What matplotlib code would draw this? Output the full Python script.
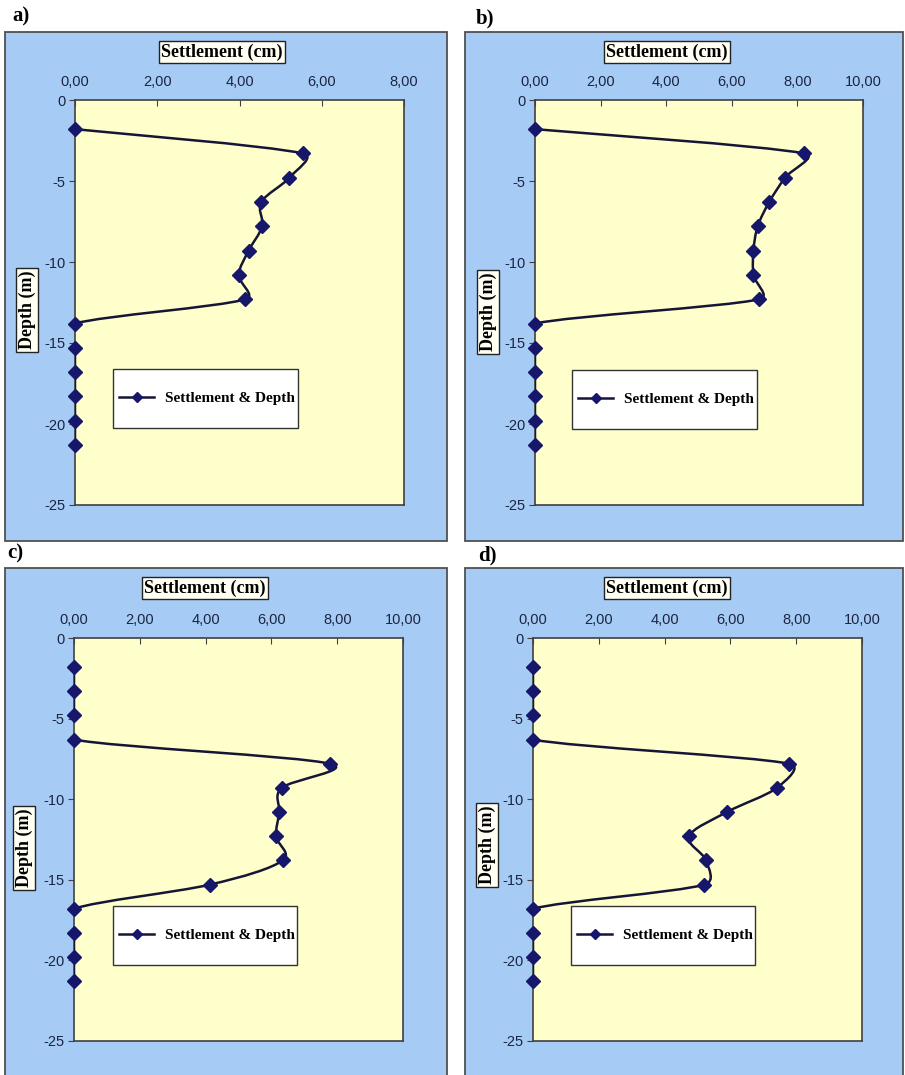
import matplotlib
matplotlib.use("Agg")
import numpy as np
import matplotlib.pyplot as plt
from matplotlib.patches import Rectangle, PathPatch
from matplotlib.path import Path
from matplotlib.lines import Line2D
from matplotlib.ticker import FuncFormatter

# depth of each measuring point (m) and settlement per case (cm)
depth = [-1.8, -3.3, -4.8, -6.3, -7.8, -9.3, -10.8, -12.3, -13.8, -15.3, -16.8, -18.3, -19.8, -21.3]
settle_a = [0, 5.54, 5.21, 4.53, 4.55, 4.22, 3.98, 4.14, 0, 0, 0, 0, 0, 0]
settle_b = [0, 8.21, 7.62, 7.14, 6.79, 6.66, 6.66, 6.84, 0, 0, 0, 0, 0, 0]
settle_c = [0, 0, 0, 0, 7.78, 6.31, 6.24, 6.14, 6.34, 4.13, 0, 0, 0, 0]
settle_d = [0, 0, 0, 0, 7.79, 7.41, 5.89, 4.74, 5.26, 5.21, 0, 0, 0, 0]

panel_labels = ["a)", "b)", "c)", "d)"]
x_max = [8, 10, 10, 10]
y_ticks = [0, -5, -10, -15, -20, -25]
series_name = "Settlement & Depth"

W, H = 905, 1075
BLUE = "#a6ccf6"
YELLOW = "#ffffcc"
NAVY = "#16166a"
LINE = "#151535"
TICK_COL = "#1b2542"
SERIF = "Liberation Serif"
SANS = "Liberation Sans"

fig = plt.figure(figsize=(W / 100, H / 100), dpi=100)
fig.patch.set_facecolor("white")


def fx(px):
    return px / W


def fy(py):
    return 1 - py / H


def smooth_path(xs, ys, sx, sy):
    # smoothed line as cubic Beziers (Catmull-Rom tangents, handles capped
    # at half the segment length so short segments don't overshoot)
    P = np.column_stack([np.asarray(xs, float) * sx, np.asarray(ys, float) * sy])
    n = len(P)
    m = np.array([(P[min(i + 1, n - 1)] - P[max(i - 1, 0)]) / 6 for i in range(n)])

    def handle(i, seg):
        size = np.hypot(*m[i])
        if size == 0:
            return m[i]
        return m[i] * min(1.0, 0.5 * seg / size)

    verts = [P[0]]
    codes = [Path.MOVETO]
    for i in range(n - 1):
        seg = np.hypot(*(P[i + 1] - P[i]))
        verts += [P[i] + handle(i, seg), P[i + 1] - handle(i + 1, seg), P[i + 1]]
        codes += [Path.CURVE4] * 3
    verts = np.array(verts) / [sx, sy]
    return Path(verts, codes)


# pixel layout of each panel: outer box, plot area, titles
panels = [
    dict(box=(5, 32, 447, 541), ax=(75, 100, 404, 505), lab=(21, 16),
         xt=(222, 52), yt=(27, 310), leg=(113, 298, 369, 428)),
    dict(box=(465, 32, 903, 541), ax=(535, 100, 863, 505), lab=(485, 18),
         xt=(667, 52), yt=(488, 312), leg=(572, 757, 370, 429)),
    dict(box=(5, 568, 447, 1080), ax=(74, 638, 403, 1041), lab=(15, 553),
         xt=(205, 588), yt=(24, 848), leg=(113, 297, 906, 965)),
    dict(box=(465, 568, 903, 1080), ax=(533, 638, 862, 1041), lab=(487, 555),
         xt=(667, 588), yt=(487, 845), leg=(571, 755, 906, 965)),
]
series = [settle_a, settle_b, settle_c, settle_d]

for k, p in enumerate(panels):
    x0, y0, x1, y1 = p["box"]
    fig.add_artist(Rectangle((fx(x0), fy(y1)), fx(x1 - x0), (y1 - y0) / H,
                             transform=fig.transFigure, facecolor=BLUE,
                             edgecolor="#505050", linewidth=1.3, zorder=-1))

    l, t, r, b = p["ax"]
    ax = fig.add_axes([fx(l), fy(b), fx(r - l), (b - t) / H])
    ax.set_facecolor(YELLOW)
    ax.set_xlim(0, x_max[k])
    ax.set_ylim(-25, 0)
    ax.set_xticks(range(0, x_max[k] + 1, 2))
    ax.set_yticks(y_ticks)
    ax.xaxis.set_major_formatter(FuncFormatter(lambda v, pos: f"{v:.2f}".replace(".", ",")))
    ax.yaxis.set_major_formatter(FuncFormatter(lambda v, pos: f"{v:g}"))
    ax.xaxis.tick_top()
    ax.tick_params(axis="x", direction="in", length=4, pad=8, labelsize=10.5,
                   labelcolor=TICK_COL, color="#404040")
    ax.tick_params(axis="y", direction="out", length=4, pad=3, labelsize=10.5,
                   labelcolor=TICK_COL, color="#404040")
    for lbl in ax.get_xticklabels() + ax.get_yticklabels():
        lbl.set_fontfamily(SANS)
    for s in ax.spines.values():
        s.set_color("#404040")
        s.set_linewidth(1.2)

    xs = series[k]
    sx = (r - l) / x_max[k]
    sy = (b - t) / 25
    ax.add_patch(PathPatch(smooth_path(xs, depth, sx, sy), facecolor="none",
                           edgecolor=LINE, linewidth=1.8, zorder=3))
    ax.plot(xs, depth, linestyle="none", marker="D", markersize=7,
            color=NAVY, zorder=4, clip_on=False)

    # legend: white framed box with the entry centred vertically inside
    ll, lr, lt, lb = p["leg"]
    lx = (ll - l) / (r - l)
    ly = (b - lb) / (b - t)
    lw = (lr - ll) / (r - l)
    lh = (lb - lt) / (b - t)
    ax.add_patch(Rectangle((lx, ly), lw, lh, transform=ax.transAxes,
                           facecolor="white", edgecolor="#333333",
                           linewidth=1.0, zorder=5))
    handle = Line2D([], [], color=LINE, linewidth=1.8, marker="D",
                    markersize=5, markerfacecolor=NAVY, markeredgecolor=NAVY)
    leg = ax.legend([handle], [series_name], loc="center left",
                    bbox_to_anchor=(lx, ly + lh / 2), borderaxespad=0,
                    frameon=False, handlelength=2.3, handletextpad=0.7,
                    borderpad=0.4,
                    prop=dict(family=SERIF, weight="bold", size=11))
    leg.set_zorder(6)

    box = dict(boxstyle="square,pad=0.15", facecolor="#fffff4",
               edgecolor="#222222", linewidth=1.0)
    fig.text(fx(p["xt"][0]), fy(p["xt"][1]), "Settlement (cm)", ha="center",
             va="center", family=SERIF, weight="bold", size=13, bbox=box)
    fig.text(fx(p["yt"][0]), fy(p["yt"][1]), "Depth (m)", ha="center",
             va="center", rotation=90, family=SERIF, weight="bold", size=13,
             bbox=box)
    fig.text(fx(p["lab"][0]), fy(p["lab"][1]), panel_labels[k], ha="center",
             va="center", family=SERIF, weight="bold", size=15)

fig.savefig("out.png", dpi=100)
